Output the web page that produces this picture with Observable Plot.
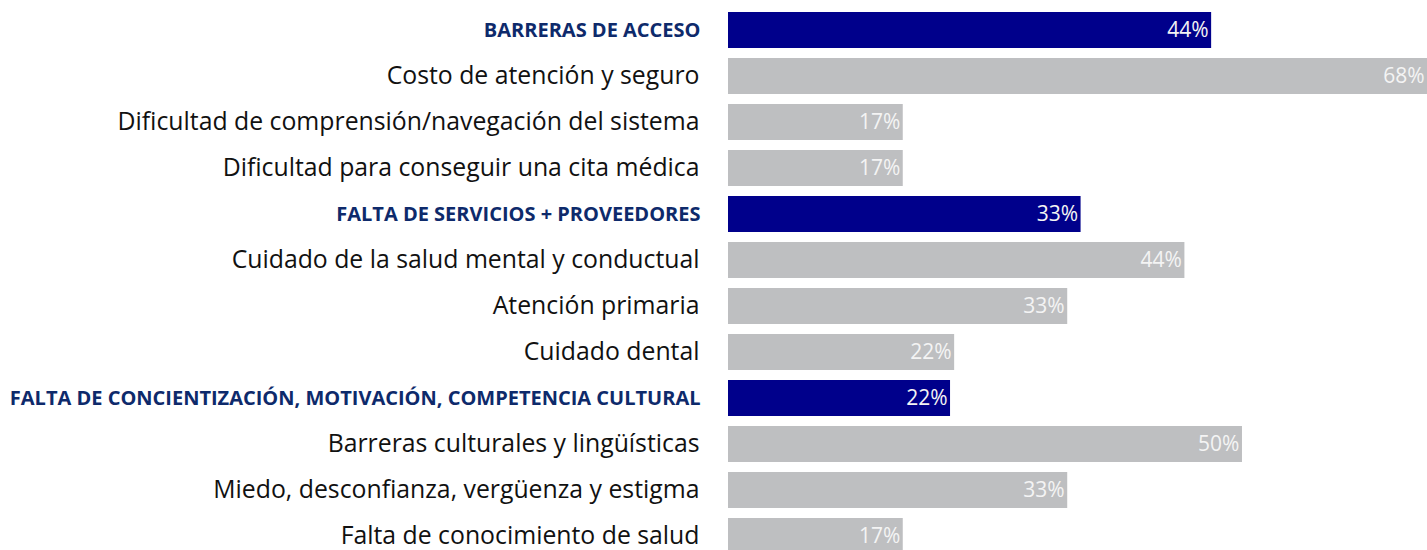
<!DOCTYPE html>
<html>
<head>
<meta charset="utf-8">
<script src="https://cdn.jsdelivr.net/npm/d3@7"></script>
<script src="https://cdn.jsdelivr.net/npm/@observablehq/plot@0.6"></script>
<style>
  html, body { margin: 0; padding: 0; background: #ffffff; }
  #chart svg { display: block; }
</style>
</head>
<body>
<div id="chart"></div>
<script>
// Row labels (top to bottom)
const categories = [
  "BARRERAS DE ACCESO",
  "Costo de atención y seguro",
  "Dificultad de comprensión/navegación del sistema",
  "Dificultad para conseguir una cita médica",
  "FALTA DE SERVICIOS + PROVEEDORES",
  "Cuidado de la salud mental y conductual",
  "Atención primaria",
  "Cuidado dental",
  "FALTA DE CONCIENTIZACIÓN, MOTIVACIÓN, COMPETENCIA CULTURAL",
  "Barreras culturales y lingüísticas",
  "Miedo, desconfianza, vergüenza y estigma",
  "Falta de conocimiento de salud"
];
// Row type: group header or item
const kinds = ["group","item","item","item","group","item","item","item","group","item","item","item"];
// Bar lengths (percent)
const values = [47, 68, 17, 17, 34.3, 44.4, 33, 22, 21.6, 50, 33, 17];
// Printed value labels
const valueLabels = ["44%","68%","17%","17%","33%","44%","33%","22%","22%","50%","33%","17%"];

const rows = categories.map((c, i) => ({
  category: c, kind: kinds[i], value: values[i], label: valueLabels[i]
}));

const font = "'Open Sans', 'Noto Sans', sans-serif";

const chart = Plot.plot({
  width: 1427,
  height: 550,
  marginLeft: 0, marginRight: 0, marginTop: 0, marginBottom: 0,
  style: { fontFamily: font, background: "#ffffff" },
  x: { domain: [0, 68], range: [728, 1427], axis: null },
  y: { domain: categories, range: [4.8, 561.6], paddingInner: 0.224, paddingOuter: 0.112, axis: null },
  color: { domain: ["group", "item"], range: ["#00008B", "#BEBFC1"] },
  marks: [
    Plot.barX(rows, { x: "value", y: "category", fill: "kind" }),
    Plot.text(rows, {
      x: "value", y: "category", text: "label",
      textAnchor: "end", dx: -3, fill: "#f4f4f4", fontSize: 21
    }),
    Plot.text(rows.filter(d => d.kind === "item"), {
      x: 0, y: "category", text: "category",
      textAnchor: "end", dx: -29, fill: "#111111", fontSize: 24.8
    }),
    Plot.text(rows.filter(d => d.kind === "group"), {
      x: 0, y: "category", text: "category",
      textAnchor: "end", dx: -28, fill: "#0E2A6B", fontSize: 20, fontWeight: "bold"
    })
  ]
});
document.getElementById("chart").appendChild(chart);
</script>
</body>
</html>
